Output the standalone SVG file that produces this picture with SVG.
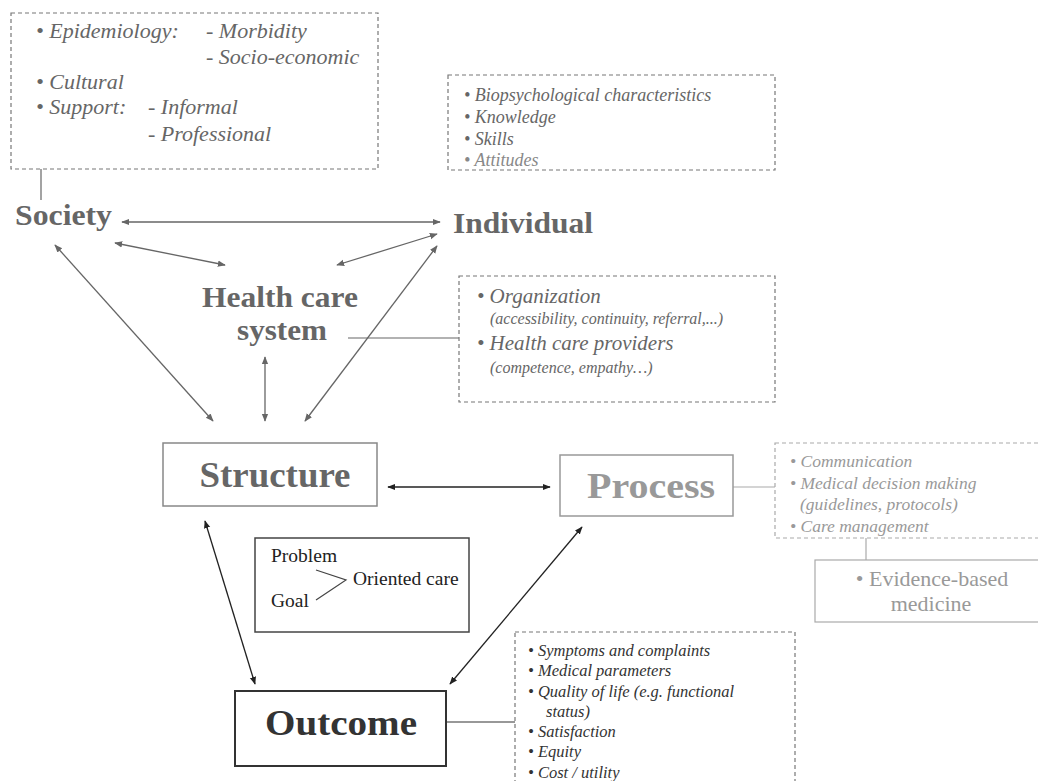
<svg xmlns="http://www.w3.org/2000/svg" width="1038" height="781" viewBox="0 0 1038 781">
<style>
text{font-family:"Liberation Serif","Times New Roman",serif}
.it{font-style:italic}
.hd{font-weight:bold;fill:#666}
.dash{fill:none;stroke:#777;stroke-width:1.2;stroke-dasharray:4 3}
.dashl{fill:none;stroke:#aaa;stroke-width:1.2;stroke-dasharray:4 3}
.cg{stroke:#666;stroke-width:1.3;fill:none}
.ck{stroke:#222;stroke-width:1.3;fill:none}
.ln{stroke:#666;stroke-width:1.2;fill:none}
</style>
<defs>
<marker id="ag" viewBox="0 0 10 10" refX="9" refY="5" markerWidth="8" markerHeight="8" markerUnits="userSpaceOnUse" orient="auto-start-reverse"><path d="M0,1 L10,5 L0,9 Z" fill="#666"/></marker>
<marker id="ak" viewBox="0 0 10 10" refX="9" refY="5" markerWidth="8" markerHeight="8" markerUnits="userSpaceOnUse" orient="auto-start-reverse"><path d="M0,1 L10,5 L0,9 Z" fill="#222"/></marker>
</defs>

<g id="connectors">
<line class="cg" x1="122" y1="222" x2="440" y2="222" marker-start="url(#ag)" marker-end="url(#ag)"/>
<line class="cg" x1="115" y1="243" x2="225" y2="265" marker-start="url(#ag)" marker-end="url(#ag)"/>
<line class="cg" x1="437" y1="234" x2="337" y2="265" marker-start="url(#ag)" marker-end="url(#ag)"/>
<line class="cg" x1="55" y1="245" x2="213" y2="421" marker-start="url(#ag)" marker-end="url(#ag)"/>
<line class="cg" x1="437" y1="246" x2="305" y2="421" marker-start="url(#ag)" marker-end="url(#ag)"/>
<line class="cg" x1="265" y1="357" x2="265" y2="421" marker-start="url(#ag)" marker-end="url(#ag)"/>
<line class="ck" x1="388" y1="487" x2="550" y2="487" marker-start="url(#ak)" marker-end="url(#ak)"/>
<line class="ck" x1="205" y1="521" x2="255" y2="684" marker-start="url(#ak)" marker-end="url(#ak)"/>
<line class="ck" x1="582" y1="527" x2="450" y2="684" marker-start="url(#ak)" marker-end="url(#ak)"/>
<line class="ln" x1="41" y1="169" x2="41" y2="200"/>
<line class="ln" x1="348" y1="338" x2="459" y2="338"/>
<line stroke="#aaa" stroke-width="1.2" x1="733" y1="487" x2="775" y2="487"/>
<line stroke="#aaa" stroke-width="1.2" x1="866" y1="538" x2="866" y2="560"/>
<line stroke="#333" stroke-width="1.2" x1="446" y1="722" x2="515" y2="722"/>
</g>

<g id="society-factors" fill="#666" font-size="22">
<rect class="dash" x="11" y="13" width="367" height="156"/>
<text class="it" x="36" y="38">• Epidemiology:</text>
<text class="it" x="206" y="38">- Morbidity</text>
<text class="it" x="206" y="64">- Socio-economic</text>
<text class="it" x="36" y="89">• Cultural</text>
<text class="it" x="36" y="114">• Support:</text>
<text class="it" x="148" y="114">- Informal</text>
<text class="it" x="148" y="141">- Professional</text>
</g>

<g id="individual-factors" fill="#666" font-size="18">
<rect class="dash" x="448" y="75" width="327" height="95"/>
<text class="it" x="464" y="101">• Biopsychological characteristics</text>
<text class="it" x="464" y="123">• Knowledge</text>
<text class="it" x="464" y="145">• Skills</text>
<text class="it" x="464" y="166" fill="#888">• Attitudes</text>
</g>

<g id="society"><text class="hd" x="15" y="225" font-size="29" textLength="97" lengthAdjust="spacingAndGlyphs">Society</text></g>
<g id="individual"><text class="hd" x="453" y="233" font-size="30" textLength="140" lengthAdjust="spacingAndGlyphs">Individual</text></g>
<g id="health-care-system">
<text class="hd" x="280" y="307" font-size="30" text-anchor="middle" textLength="156" lengthAdjust="spacingAndGlyphs">Health care</text>
<text class="hd" x="282" y="340" font-size="30" text-anchor="middle" textLength="90" lengthAdjust="spacingAndGlyphs">system</text>
</g>

<g id="hcs-factors" fill="#666">
<rect class="dash" x="459" y="276" width="316" height="126"/>
<text class="it" x="477" y="303" font-size="21">• Organization</text>
<text class="it" x="490" y="324" font-size="16">(accessibility, continuity, referral,...)</text>
<text class="it" x="477" y="350" font-size="21">• Health care providers</text>
<text class="it" x="490" y="373" font-size="16">(competence, empathy…)</text>
</g>

<g id="structure">
<rect x="163" y="443" width="214" height="63" fill="none" stroke="#888" stroke-width="1.5"/>
<text class="hd" x="275" y="487" font-size="36" text-anchor="middle" textLength="151" lengthAdjust="spacingAndGlyphs">Structure</text>
</g>

<g id="process">
<rect x="560" y="455" width="173" height="61" fill="none" stroke="#999" stroke-width="1.5"/>
<text x="651" y="498" font-size="36" font-weight="bold" fill="#999" text-anchor="middle" textLength="128" lengthAdjust="spacingAndGlyphs">Process</text>
</g>

<g id="process-factors" fill="#999" font-size="17.5">
<rect class="dashl" x="775" y="443" width="270" height="95"/>
<text class="it" x="790" y="467">• Communication</text>
<text class="it" x="790" y="489">• Medical decision making</text>
<text class="it" x="800" y="510">(guidelines, protocols)</text>
<text class="it" x="790" y="532">• Care management</text>
</g>

<g id="evidence-based-medicine">
<rect x="815" y="560" width="230" height="62" fill="none" stroke="#aaa" stroke-width="1.2"/>
<text x="932" y="586" font-size="22" fill="#999" text-anchor="middle">• Evidence-based</text>
<text x="931" y="611" font-size="22" fill="#999" text-anchor="middle">medicine</text>
</g>

<g id="oriented-care">
<rect x="255" y="538" width="214" height="94" fill="none" stroke="#444" stroke-width="1.5"/>
<text x="271" y="562" font-size="19.5" fill="#222">Problem</text>
<text x="271" y="607" font-size="19.5" fill="#222">Goal</text>
<text x="353" y="585" font-size="19.5" fill="#222">Oriented care</text>
<polyline points="316,570 346,580 316,600" fill="none" stroke="#444" stroke-width="1.2"/>
</g>

<g id="outcome">
<rect x="235" y="691" width="211" height="75" fill="none" stroke="#333" stroke-width="2"/>
<text x="341" y="735" font-size="36" font-weight="bold" fill="#333" text-anchor="middle" textLength="152" lengthAdjust="spacingAndGlyphs">Outcome</text>
</g>

<g id="outcome-factors" fill="#333" font-size="16.5">
<rect class="dash" x="515" y="632" width="280" height="160"/>
<text class="it" x="528" y="656">• Symptoms and complaints</text>
<text class="it" x="528" y="676">• Medical parameters</text>
<text class="it" x="528" y="697">• Quality of life (e.g. functional</text>
<text class="it" x="546" y="717">status)</text>
<text class="it" x="528" y="737">• Satisfaction</text>
<text class="it" x="528" y="757">• Equity</text>
<text class="it" x="528" y="778">• Cost / utility</text>
</g>
</svg>
